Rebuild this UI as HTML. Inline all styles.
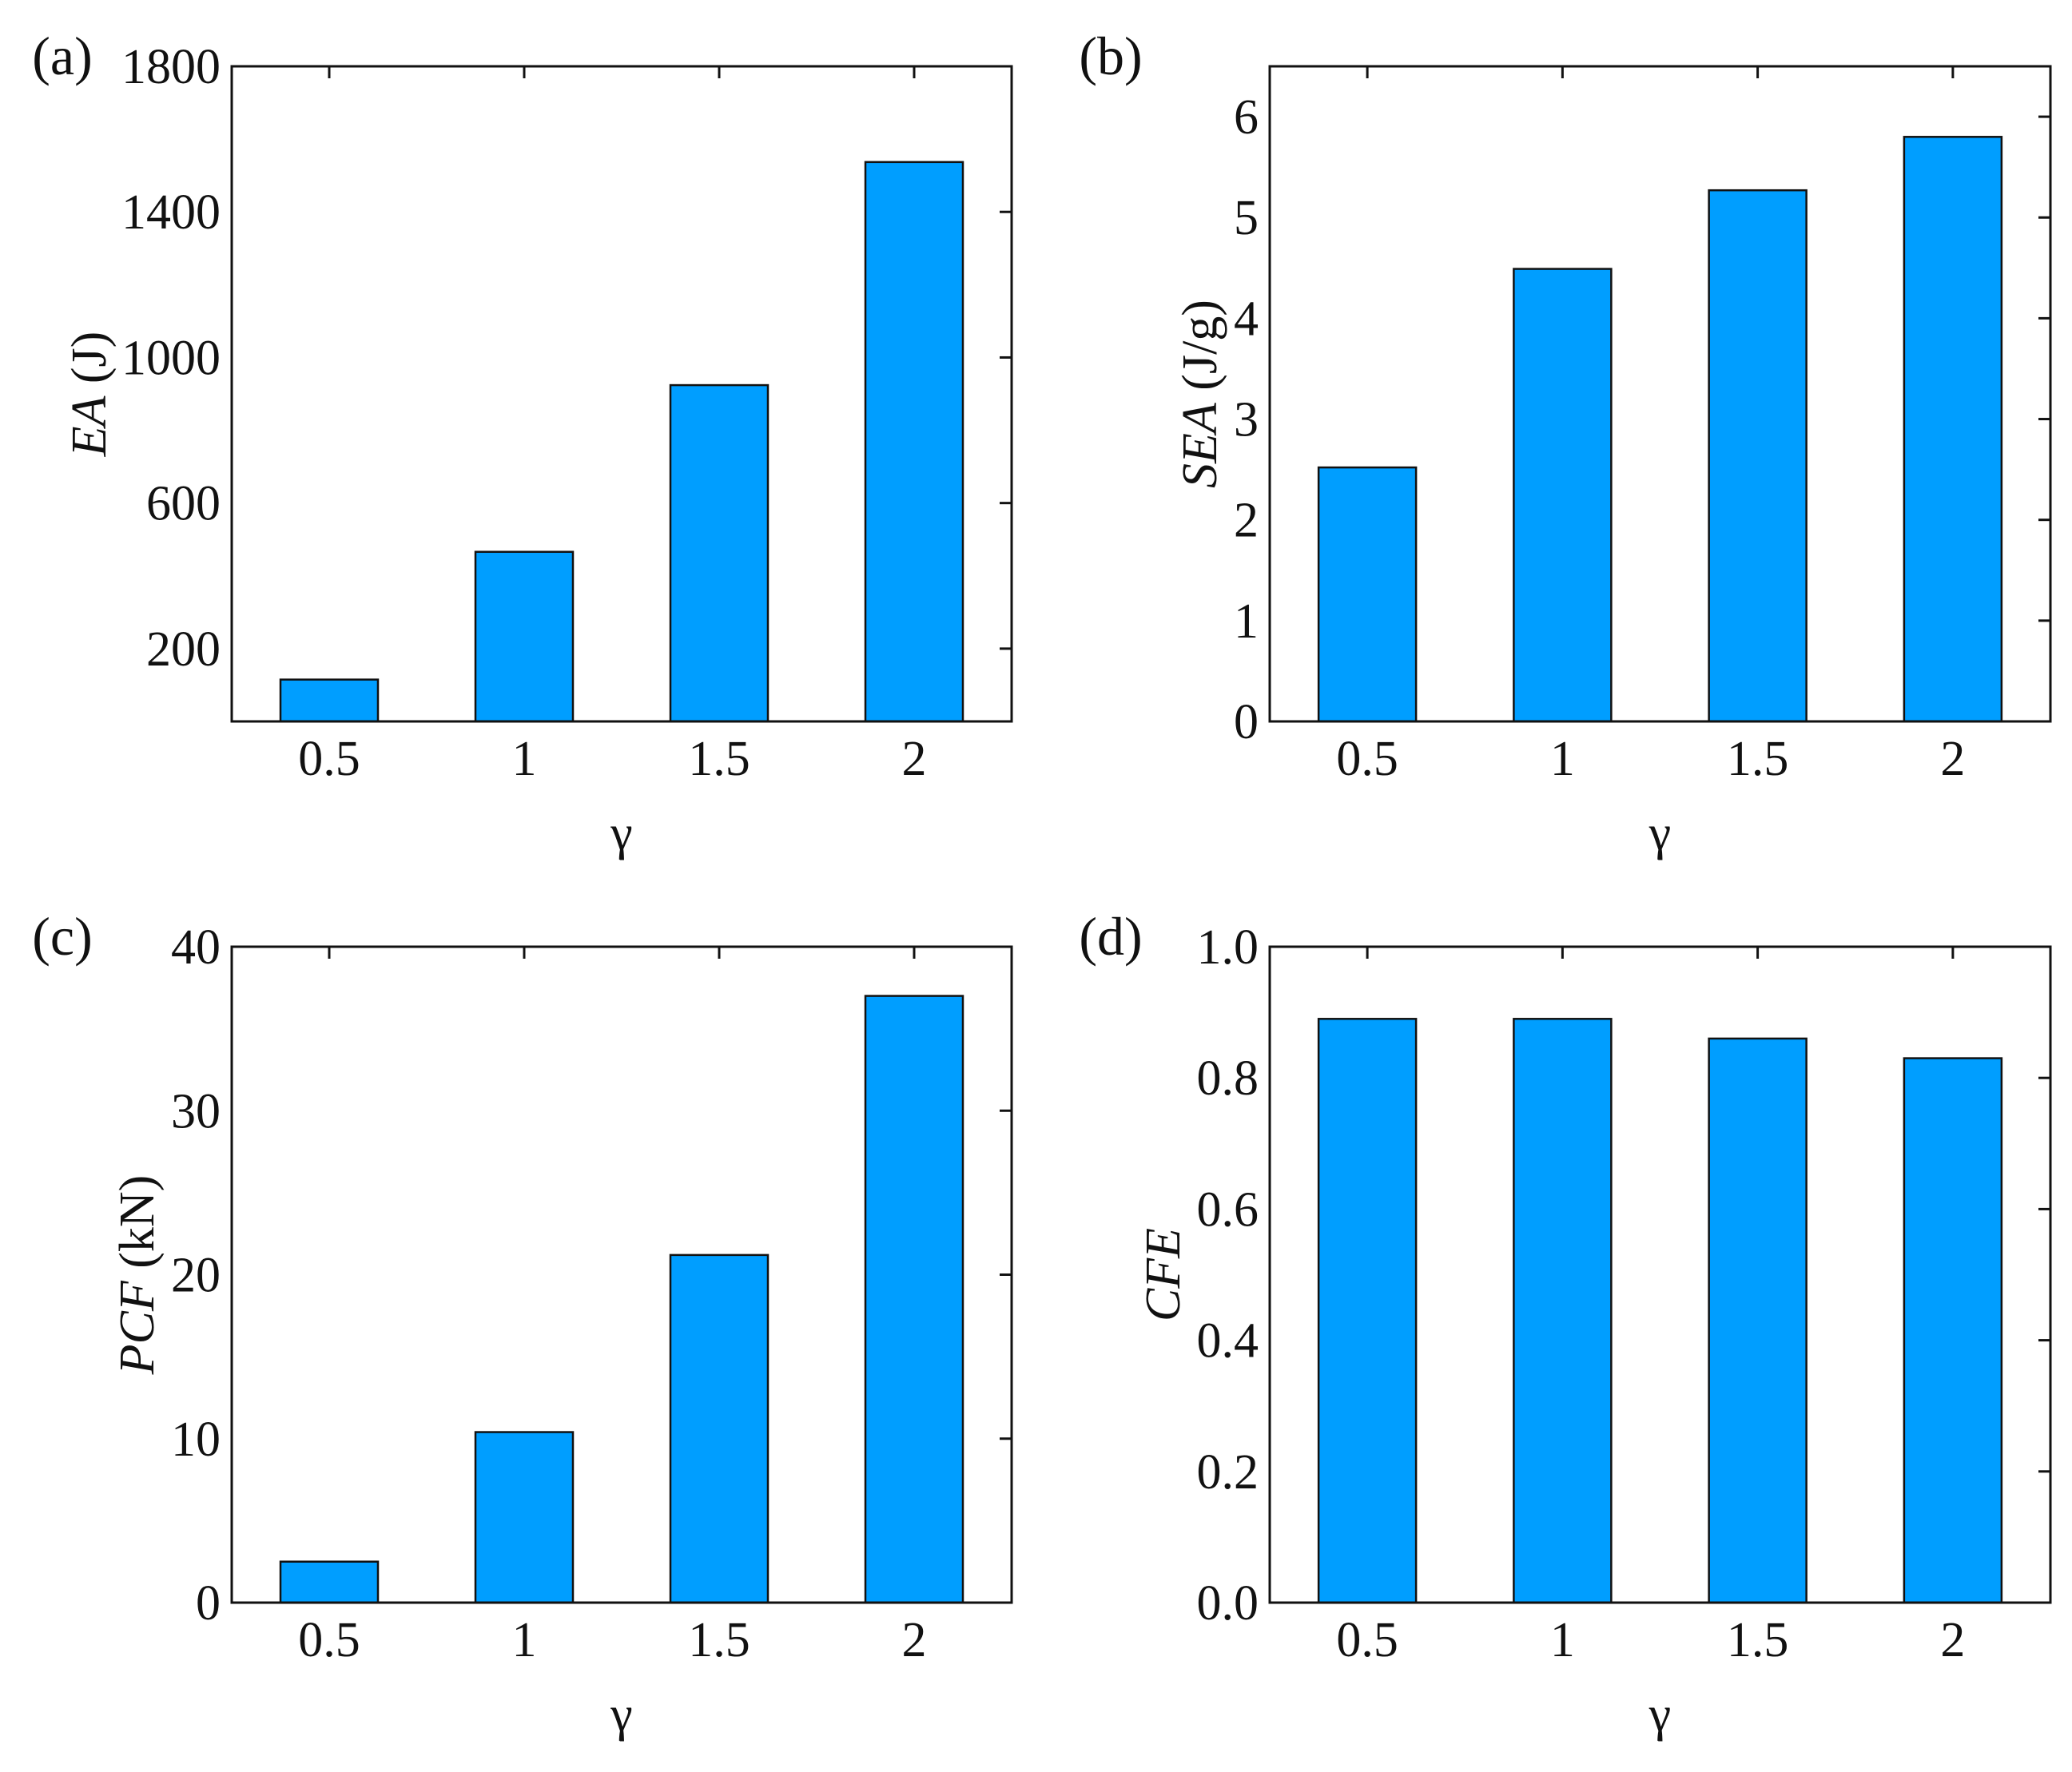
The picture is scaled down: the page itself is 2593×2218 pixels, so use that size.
<!DOCTYPE html>
<html><head><meta charset="utf-8">
<style>
html,body{margin:0;padding:0;background:#fff;overflow:hidden;}
svg{display:block;}
text{font-family:"Liberation Serif",serif;fill:#111;}
</style></head>
<body>
<svg id="fig" width="2593" height="2218" viewBox="0 0 2593 2218" xmlns="http://www.w3.org/2000/svg"></svg>
<script>
const categories = ["0.5", "1", "1.5", "2"];
const eaValues = [115, 466, 924, 1537];
const seaValues = [2.52, 4.49, 5.27, 5.80];
const pcfValues = [2.5, 10.4, 21.2, 37.0];
const cfeValues = [0.89, 0.89, 0.86, 0.83];
const eaTicks = [200, 600, 1000, 1400, 1800];
const eaTickLabels = ["200", "600", "1000", "1400", "1800"];
const seaTicks = [0, 1, 2, 3, 4, 5, 6];
const seaTickLabels = ["0", "1", "2", "3", "4", "5", "6"];
const pcfTicks = [0, 10, 20, 30, 40];
const pcfTickLabels = ["0", "10", "20", "30", "40"];
const cfeTicks = [0, 0.2, 0.4, 0.6, 0.8, 1.0];
const cfeTickLabels = ["0.0", "0.2", "0.4", "0.6", "0.8", "1.0"];

const NS = "http://www.w3.org/2000/svg";
const svg = document.getElementById("fig");
function mk(tag, attrs, parent) {
  const e = document.createElementNS(NS, tag);
  for (const k in attrs) e.setAttribute(k, attrs[k]);
  (parent || svg).appendChild(e);
  return e;
}

function panel(cfg) {
  const g = mk("g", {});
  
  
  const L = cfg.x0, R = cfg.x1, T = cfg.y0, B = cfg.y1;
  const n = categories.length;
  const xs = i => L + (R - L) * (i + 0.5) / n;
  const ys = v => B - (v - cfg.ymin) / (cfg.ymax - cfg.ymin) * (B - T);
  const bw = 122;
  cfg.values.forEach((v, i) => {
    const r = mk("rect", {x: xs(i) - bw / 2, y: ys(v), width: bw, height: ys(cfg.ymin) - ys(v), fill: "#009EFF", stroke: "#111", "stroke-width": 2.5}, g);
    
    
  });
  const frame = mk("rect", {x: L, y: T, width: R - L, height: B - T, fill: "none", stroke: "#111", "stroke-width": 3}, g);
  
  
  categories.forEach((c, i) => {
    const tk = mk("line", {x1: xs(i), x2: xs(i), y1: T, y2: T + 15, stroke: "#111", "stroke-width": 3}, g);
    
    
    const t = mk("text", {x: xs(i), y: B + 67, "font-size": 62, "text-anchor": "middle"}, g);
    t.textContent = c;
    
    
  });
  cfg.ticks.forEach((v, i) => {
    const y = ys(v);
    const tk = mk("line", {x1: R - 15, x2: R, y1: y, y2: y, stroke: "#111", "stroke-width": 3}, g);
    
    
    const t = mk("text", {x: L - 14, y: y + 21, "font-size": 62, "text-anchor": "end"}, g);
    t.textContent = cfg.tickLabels[i];
    
    
  });
  const xt = mk("text", {x: (L + R) / 2, y: B + 160, "font-size": 62, "text-anchor": "middle"}, g);
  xt.textContent = "γ";
  
  
  const cy = (T + B) / 2;
  const tx = cfg.titleX + 21;
  const yt = mk("text", {x: tx, y: cy, "font-size": 62, "text-anchor": "middle", transform: `rotate(-90 ${tx} ${cy})`}, g);
  
  
  const it = mk("tspan", {"font-style": "italic"}, yt);
  it.textContent = cfg.titleItalic;
  const rest = mk("tspan", {}, yt);
  rest.textContent = cfg.titleRest;
  const pl = mk("text", {x: cfg.labelX, y: T + 10, "font-size": 68, "text-anchor": "middle"}, g);
  pl.textContent = cfg.label;
  
  
}

panel({name: "panel-a-ea", x0: 290, x1: 1266, y0: 83, y1: 903, ymin: 0, ymax: 1800, values: eaValues, ticks: eaTicks, tickLabels: eaTickLabels, titleX: 111, titleItalic: "EA", titleRest: " (J)", label: "(a)", labelX: 78});
panel({name: "panel-b-sea", x0: 1589, x1: 2566, y0: 83, y1: 903, ymin: 0, ymax: 6.5, values: seaValues, ticks: seaTicks, tickLabels: seaTickLabels, titleX: 1501, titleItalic: "SEA", titleRest: " (J/g)", label: "(b)", labelX: 1390});
panel({name: "panel-c-pcf", x0: 290, x1: 1266, y0: 1185, y1: 2006, ymin: 0, ymax: 40, values: pcfValues, ticks: pcfTicks, tickLabels: pcfTickLabels, titleX: 171, titleItalic: "PCF", titleRest: " (kN)", label: "(c)", labelX: 78});
panel({name: "panel-d-cfe", x0: 1589, x1: 2566, y0: 1185, y1: 2006, ymin: 0, ymax: 1.0, values: cfeValues, ticks: cfeTicks, tickLabels: cfeTickLabels, titleX: 1455, titleItalic: "CFE", titleRest: "", label: "(d)", labelX: 1390});
</script>
</body></html>
